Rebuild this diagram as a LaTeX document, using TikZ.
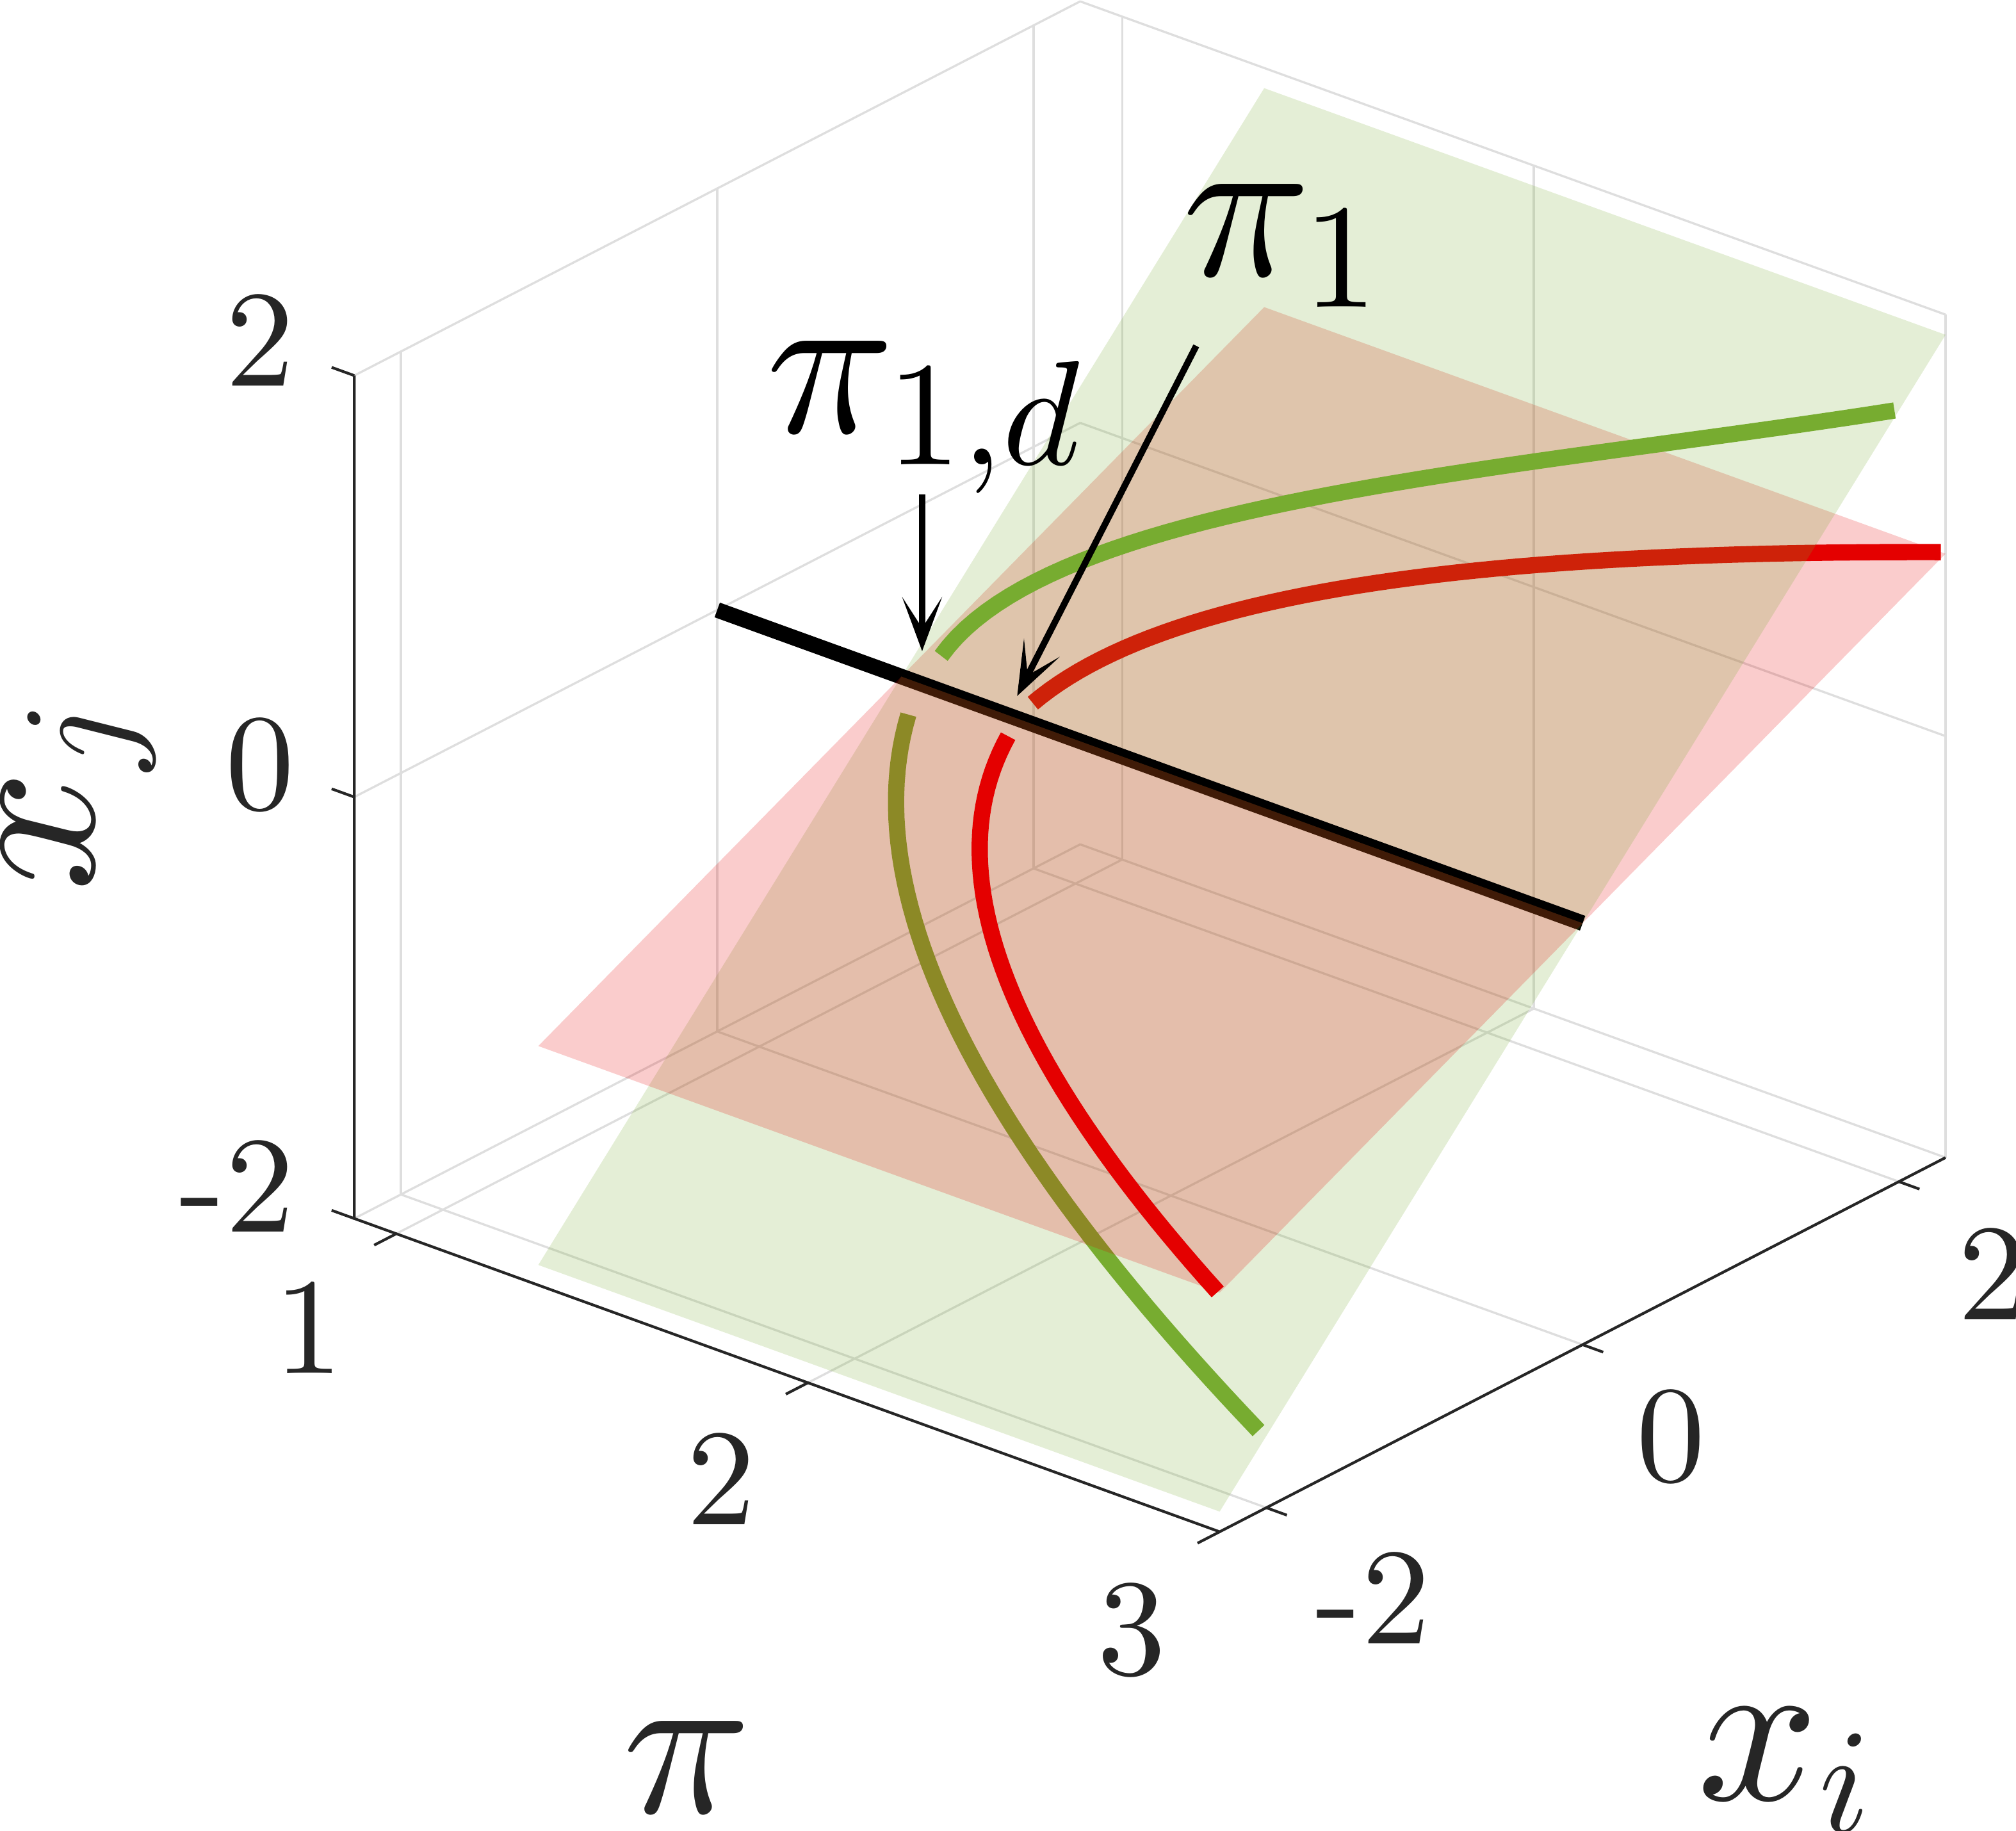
\documentclass[tikz,border=0pt]{standalone}
\usepackage{graphicx}
\usetikzlibrary{arrows.meta}
\definecolor{matGreen}{RGB}{119,172,48}
\definecolor{matRed}{RGB}{228,0,0}
\definecolor{axisGray}{RGB}{38,38,38}
\definecolor{gridGray}{RGB}{222,222,222}
\newcommand{\sub}[1]{\scalebox{0.7}{$#1$}}
\tikzset{
  gridline/.style = {draw=gridGray, line width=0.48pt},
  axisline/.style = {draw=axisGray, line width=0.6pt},
  ticklabel/.style = {text=axisGray, inner sep=0pt, scale=3.04},
  axislabel/.style = {text=axisGray, inner sep=0pt, scale=4.7},
  annot/.style = {text=black, inner sep=0pt, scale=4.7},
  curve/.style = {line width=3.6pt},
  sheet/.style = {fill opacity=0.2},
  pointer/.style = {-{Stealth[length=4.2mm, width=3.1mm, inset=2.4mm]}, line width=1.42pt}
}

\begin{document}
\begin{tikzpicture}
  \useasboundingbox (0,0) rectangle (15.68,-14.236);
  \pgfmathsetmacro{\piMin}{0.898}
  \pgfmathsetmacro{\piMax}{3}
  \pgfmathsetmacro{\xiMax}{2.295}
  \pgfmathsetmacro{\sheetMin}{1.345}
  \begin{scope}[shift={(2.703cm,-3.703cm)},
      x={(3.202cm,-1.159cm)}, y={(1.230cm,0.634cm)}, z={(0cm,1.639cm)}]
    % grid
    \foreach \v in {-2,0,2} {
      \draw[gridline] (\piMin,-\xiMax,\v) -- (\piMin,\xiMax,\v);
      \draw[gridline] (\piMin,\v,-2) -- (\piMin,\v,2);
      \draw[gridline] (\piMin,\xiMax,\v) -- (\piMax,\xiMax,\v);
      \draw[gridline] (\piMin,\v,-2) -- (\piMax,\v,-2);
    }
    \foreach \p in {1,2,3} {
      \draw[gridline] (\p,\xiMax,-2) -- (\p,\xiMax,2);
      \draw[gridline] (\p,-\xiMax,-2) -- (\p,\xiMax,-2);
    }
    % axes
    \coordinate (corner) at (\piMin,-\xiMax,-2);
    \coordinate (front) at (\piMax,-\xiMax,-2);
    \coordinate (right) at (\piMax,\xiMax,-2);
    \coordinate (top) at (\piMin,-\xiMax,2);
    \draw[axisline] (top) -- (corner) -- (front) -- (right);
    \foreach \v in {-2,0,2}
      \draw[axisline] (\piMin,-\xiMax,\v) -- ++(-0.055,0,0);
    \foreach \p in {1,2,3}
      \draw[axisline] (\p,-\xiMax,-2) -- ++(0,-0.14,0);
    \foreach \v in {-2,0,2}
      \draw[axisline] (\piMax,\v,-2) -- ++(0.05,0,0);
    % upper half: red sheet behind green sheet
    \begin{scope}[y={(1.230cm,1.252cm)}]
      \fill[matRed, sheet] (\sheetMin,0) -- (\piMax,0) -- (\piMax,\xiMax) -- (\sheetMin,\xiMax) -- cycle;
      \draw[matRed, curve] plot[domain=0.0965:2.295, samples=50, variable=\t]
        ({1.625+0.28*\t*\t-0.004*\t*\t*\t*\t}, \t);
    \end{scope}
    \begin{scope}[y={(1.230cm,1.994cm)}]
      \fill[matGreen, sheet] (\sheetMin,0) -- (\piMax,0) -- (\piMax,\xiMax) -- (\sheetMin,\xiMax) -- cycle;
      \draw[matGreen, curve] plot[domain=0.112:1.995, samples=50, variable=\t]
        ({1.403-0.121*\t+0.777*\t*\t-0.159*\t*\t*\t}, \t);
    \end{scope}
    % intersection line
    \coordinate (lineStart) at (\piMin,0,0);
    \coordinate (lineEnd) at (\piMax,0,0);
    \draw[line width=3.45pt] (lineStart) -- (lineEnd);
    % lower half: green sheet behind red sheet
    \begin{scope}[y={(1.230cm,1.994cm)}]
      \fill[matGreen, sheet] (\sheetMin,0) -- (\piMax,0) -- (\piMax,-\xiMax) -- (\sheetMin,-\xiMax) -- cycle;
      \draw[matGreen, curve] plot[domain=0.113:1.992, samples=50, variable=\t]
        ({1.39+0.1*\t+0.35*\t*\t}, -\t);
    \end{scope}
    \begin{scope}[y={(1.230cm,1.252cm)}]
      \fill[matRed, sheet] (\sheetMin,0) -- (\piMax,0) -- (\piMax,-\xiMax) -- (\sheetMin,-\xiMax) -- cycle;
      \draw[matRed, curve] plot[domain=0.096:2.295, samples=50, variable=\t]
        ({1.63+0.098*\t+0.2165*\t*\t}, -\t);
    \end{scope}
  \end{scope}
  % tick labels
  \node[ticklabel, anchor=base east] (zTickTop) at (2.31,-3.00) {2};
  \node[ticklabel, anchor=base east] (zTickMid) at (2.31,-6.295) {0};
  \node[ticklabel, anchor=base east] (zTickLow) at (2.31,-9.583) {-2};
  \node[ticklabel, anchor=base] (piTickOne) at (2.402,-10.682) {1};
  \node[ticklabel, anchor=base] (piTickTwo) at (5.61,-11.855) {2};
  \node[ticklabel, anchor=base] (piTickThree) at (8.802,-13.02) {3};
  \node[ticklabel, anchor=base east] (xiTickLow) at (11.145,-12.785) {-2};
  \node[ticklabel, anchor=base] (xiTickMid) at (12.996,-11.52) {0};
  \node[ticklabel, anchor=base west] (xiTickTop) at (15.206,-10.261) {2};
  % axis labels
  \node[axislabel, anchor=base] (piLabel) at (5.346,-14.096) {$\pi$};
  \node[axislabel, anchor=base west] (xiLabel) at (13.17,-14.0) {$x_{\sub{i}}$};
  \node[axislabel, rotate=90, anchor=base west] (xjLabel) at (0.73,-6.97) {$x_{\sub{j}}$};
  % annotations
  \node[annot, anchor=base west] (piOneD) at (5.925,-3.366) {$\pi_{\sub{1{,}d}}$};
  \node[annot, anchor=base west] (piOne) at (9.165,-2.142) {$\pi_{\sub{1}}$};
  \coordinate (dTail) at (7.172,-3.847);
  \coordinate (dTip) at (7.172,-5.064);
  \coordinate (oneTail) at (9.304,-2.69);
  \coordinate (oneTip) at (7.911,-5.413);
  \draw[pointer] (dTail) -- (dTip);
  \draw[pointer] (oneTail) -- (oneTip);
\end{tikzpicture}
\end{document}
